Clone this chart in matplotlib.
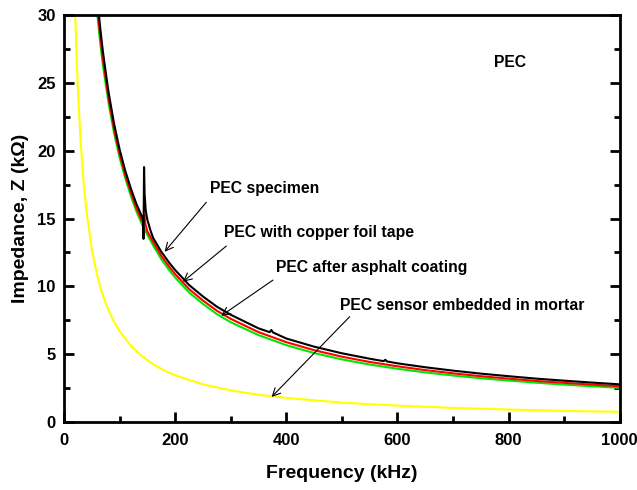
import matplotlib
matplotlib.use("Agg")
import matplotlib.pyplot as plt
from matplotlib.ticker import MultipleLocator

plt.rcParams['font.family'] = ['Liberation Sans', 'DejaVu Sans']
plt.rcParams['font.weight'] = 'bold'

# PEC specimen (bare)
f_spec = [60, 65, 70, 80, 90, 100, 110, 120, 130, 136, 140, 142, 143, 144, 145, 147,
          150, 155, 160, 175, 190, 200, 225, 250, 275, 300, 350, 370, 373, 376, 400,
          450, 500, 550, 575, 578, 581, 600, 650, 700, 750, 800, 850, 900, 950, 1000]
z_spec = [31.2, 29.1, 27.3, 24.35, 22.0, 20.1, 18.55, 17.25, 16.1, 15.55, 15.15, 14.95, 13.5, 18.8, 16.8, 15.6,
          14.9, 14.2, 13.6, 12.55, 11.7, 11.2, 10.1, 9.25, 8.5, 7.9, 6.9, 6.62, 6.78, 6.6, 6.15,
          5.55, 5.06, 4.66, 4.48, 4.58, 4.46, 4.32, 4.03, 3.78, 3.56, 3.37, 3.19, 3.04, 2.9, 2.77]

# PEC with copper foil tape
f_tape = [55, 60, 65, 70, 80, 90, 100, 110, 120, 130, 140, 142.5, 144.5, 146.5, 150, 160,
          175, 190, 200, 225, 250, 275, 300, 350, 400, 450, 500, 550, 600, 650, 700,
          750, 800, 850, 900, 950, 1000]
z_tape = [32.9, 30.55, 28.5, 26.75, 23.9, 21.6, 19.77, 18.25, 16.95, 15.8, 14.85, 14.65, 15.3, 14.55, 14.05, 13.3,
          12.25, 11.4, 10.9, 9.8, 8.95, 8.2, 7.6, 6.62, 5.88, 5.29, 4.81, 4.42, 4.1, 3.82, 3.58,
          3.37, 3.19, 3.02, 2.88, 2.75, 2.63]

# PEC after asphalt coating
f_asph = [55, 60, 65, 70, 80, 90, 100, 110, 120, 130, 140, 150, 160, 175, 190, 200,
          225, 250, 275, 300, 350, 400, 450, 500, 550, 600, 650, 700, 750, 800, 850,
          900, 950, 1000]
z_asph = [32.3, 30.0, 28.0, 26.3, 23.55, 21.3, 19.5, 18.0, 16.7, 15.55, 14.6, 13.8, 13.05, 12.0, 11.15, 10.65,
          9.55, 8.7, 7.95, 7.35, 6.4, 5.66, 5.08, 4.61, 4.23, 3.92, 3.65, 3.42, 3.22, 3.05, 2.89,
          2.75, 2.63, 2.51]

# PEC sensor embedded in mortar
f_mort = [18, 20, 22, 25, 30, 35, 40, 50, 60, 70, 80, 90, 100, 120, 140, 160, 180, 200,
          250, 300, 350, 400, 500, 600, 700, 800, 900, 1000]
z_mort = [33.5, 30.3, 27.7, 24.5, 20.6, 17.8, 15.68, 12.7, 10.75, 9.3, 8.25, 7.38, 6.7, 5.62, 4.85, 4.26,
          3.8, 3.43, 2.77, 2.32, 2.0, 1.77, 1.42, 1.2, 1.03, 0.91, 0.81, 0.74]

fig = plt.figure(figsize=(6.37, 4.90), dpi=100)
ax = fig.add_axes([0.1005, 0.139, 0.8725, 0.830])

lw = 1.5
ax.plot(f_mort, z_mort, color='#FFFF00', lw=lw)
ax.plot(f_asph, z_asph, color='#00E600', lw=lw)
ax.plot(f_tape, z_tape, color='#FF0000', lw=lw)
ax.plot(f_spec, z_spec, color='black', lw=lw)

ax.set_xlim(0, 1000)
ax.set_ylim(0, 30)
ax.xaxis.set_major_locator(MultipleLocator(200))
ax.xaxis.set_minor_locator(MultipleLocator(100))
ax.yaxis.set_major_locator(MultipleLocator(5))
ax.yaxis.set_minor_locator(MultipleLocator(2.5))

for s in ax.spines.values():
    s.set_linewidth(2)
ax.tick_params(which='both', direction='in', right=True, top=False, width=2, labelsize=12)
ax.tick_params(axis='x', which='major', pad=8)
ax.tick_params(axis='y', which='major', pad=6)
ax.tick_params(which='major', length=7)
ax.tick_params(which='minor', length=4)
for lab in ax.get_xticklabels() + ax.get_yticklabels():
    lab.set_fontweight('bold')

ax.set_xlabel('Frequency (kHz)', fontsize=14, fontweight='bold', labelpad=12)
ax.set_ylabel('Impedance, Z (k\u03a9)', fontsize=14, fontweight='bold', labelpad=6)

ax.text(773, 26.5, 'PEC', fontsize=11.3, fontweight='bold', va='center', ha='left')

arrow = dict(arrowstyle='->', color='black', lw=0.8, mutation_scale=14, shrinkA=0, shrinkB=0)
notes = [
    ('PEC specimen', (262, 17.2), (256, 16.2), (181, 12.55)),
    ('PEC with copper foil tape', (287, 14.0), (292, 12.97), (214, 10.34)),
    ('PEC after asphalt coating', (381, 11.37), (376, 10.46), (283, 7.83)),
    ('PEC sensor embedded in mortar', (497, 8.62), (514, 7.76), (373.5, 1.84)),
]
for txt, pos, start, tip in notes:
    ax.text(pos[0], pos[1], txt, fontsize=11.3, fontweight='bold', va='center', ha='left')
    ax.annotate('', xy=tip, xytext=start, arrowprops=arrow)

fig.savefig('out.png', dpi=100)
